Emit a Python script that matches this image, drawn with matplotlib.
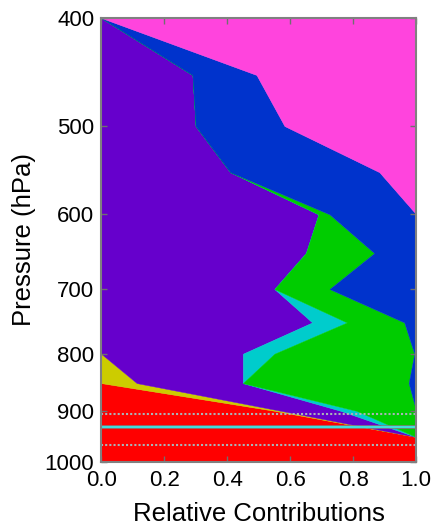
import numpy as np
import matplotlib
matplotlib.use("Agg")
import matplotlib.pyplot as plt

# pressure levels (hPa) and relative contribution of each component
pressure = [400, 450, 500, 550, 600, 650, 700, 750, 800, 850, 900, 950, 1000]
red     = [0, 0, 0, 0, 0, 0, 0, 0, 0, 0, 0.55, 1.0, 1.0]
yellow  = [0, 0, 0, 0, 0, 0, 0, 0, 0, 0.113, 0.02, 0, 0]
purple  = [0, 0.29, 0.30, 0.41, 0.69, 0.65, 0.55, 0.67, 0.45, 0.337, 0.19, 0, 0]
cyan    = [0, 0, 0, 0, 0, 0, 0, 0.11, 0.10, 0, 0.05, 0, 0]
green   = [0, 0, 0, 0, 0.035, 0.217, 0.175, 0.182, 0.444, 0.526, 0.19, 0, 0]
blue    = [0, 0.203, 0.282, 0.473, 0.275, 0.133, 0.275, 0.038, 0.006, 0.024, 0, 0, 0]
magenta = [1.0, 0.507, 0.418, 0.117, 0, 0, 0, 0, 0, 0, 0, 0, 0]

series = [red, yellow, purple, cyan, green, blue, magenta]
colors = ["#ff0000", "#cccc00", "#6600cc", "#00cccc", "#00cc00", "#0033cc", "#ff44dd"]

# reference levels drawn as horizontal lines
dotted_levels = [906, 966]
solid_level = 930

yticks = [400, 500, 600, 700, 800, 900, 1000]
xticks = [0.0, 0.2, 0.4, 0.6, 0.8, 1.0]

plt.rcParams["font.family"] = ["Liberation Sans", "DejaVu Sans"]

fig = plt.figure(figsize=(4.34, 5.26), dpi=100)
ax = fig.add_axes([0.233, 0.122, 0.726, 0.844])

p = np.array(pressure, dtype=float)
left = np.zeros_like(p)
for vals, c in zip(series, colors):
    right = left + np.array(vals)
    ax.fill_betweenx(p, left, right, facecolor=c, edgecolor=c, linewidth=0.3)
    left = right

for lev in dotted_levels:
    ax.axhline(lev, color="#a8b4b8", lw=1.5, ls=(0, (1, 1)))
ax.axhline(solid_level, color="#808080", lw=2.6)
ax.axhline(solid_level, color="#40e0e0", lw=1.4)

ax.set_yscale("log")
ax.set_ylim(1000, 400)
ax.set_xlim(0, 1)
ax.set_yticks(yticks)
ax.set_yticklabels([str(t) for t in yticks])
ax.yaxis.set_minor_locator(matplotlib.ticker.NullLocator())
ax.set_xticks(xticks)
ax.set_xticklabels([f"{t:.1f}" for t in xticks])

ax.tick_params(direction="in", length=4, width=1, color="#707070",
               labelsize=16, top=True, right=True)
ax.tick_params(axis="x", pad=6)
ax.tick_params(axis="y", pad=5)
for s in ax.spines.values():
    s.set_color("#808080")
    s.set_linewidth(1.5)

ax.set_xlabel("Relative Contributions", fontsize=18.5, labelpad=8)
ax.set_ylabel("Pressure (hPa)", fontsize=18.5, labelpad=6)

fig.savefig("out.png", dpi=100)
